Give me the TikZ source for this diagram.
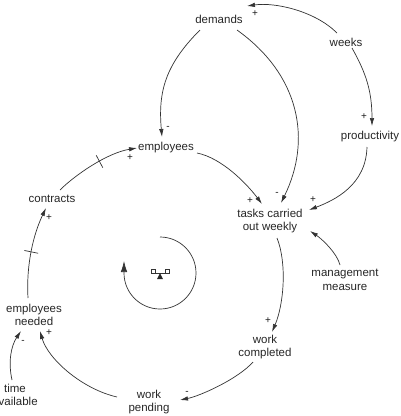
\documentclass[tikz,border=0pt]{standalone}
\usepackage{fontspec}
\setmainfont{Liberation Sans}
\usetikzlibrary{arrows.meta,decorations.markings}
\begin{document}
\begin{tikzpicture}[x=1pt,y=-1pt,
  every node/.style={font=\fontsize{11.5}{13.5}\selectfont, text=black!85, align=center, inner sep=1pt},
  lab/.style={font=\fontsize{10}{12}\selectfont, text=black!90, inner sep=0pt},
  arr/.style={draw=black!80, line width=0.7pt, -{Latex[length=8pt,width=4.5pt]}},
  delaytick/.style={postaction={decorate}, decoration={markings, mark=at position #1 with {\draw[-,black!80,line width=0.7pt] (0,-7pt) -- (0,7pt);}}}
]
\useasboundingbox (0,0) rectangle (401,416);

\node (demands) at (219,19) {demands};
\node (weeks) at (346,42) {weeks};
\node (productivity) at (370,137) {productivity};
\node (employees) at (166,148) {employees};
\node (contracts) at (52,199) {contracts};
\node (tasks) at (270,221) {tasks carried\\out weekly};
\node (management) at (345,280) {management\\measure};
\node (workcompleted) at (265,347) {work\\completed};
\node (empneeded) at (34,315) {employees\\needed};
\node (time) at (15,395) {time\\available};
\node (workpending) at (149,402) {work\\pending};

% demands -> employees
\draw[arr] ([shift={(-19,11)}]demands.center) .. controls +(-35,35) and +(-4,-45) .. ([shift={(-4,-11)}]employees.center)
  node[lab, at end, xshift=6pt, yshift=9pt] {-};
% demands -> tasks
\draw[arr] ([shift={(18,11)}]demands.center) .. controls +(63,45) and +(31,-63) .. ([shift={(11,-18)}]tasks.center)
  node[lab, at end, xshift=-4pt, yshift=9pt] {-};
% weeks -> demands
\draw[arr] ([shift={(-9,-9)}]weeks.center) .. controls +(-22,-22) and +(28,-4) .. ([shift={(28,-13)}]demands.center)
  node[lab, at end, xshift=8pt, yshift=-8pt] {+};
% weeks -> productivity
\draw[arr] ([shift={(6,6)}]weeks.center) .. controls +(14,25) and +(0,-35) .. ([shift={(2,-11)}]productivity.center)
  node[lab, at end, xshift=-8pt, yshift=9pt] {+};
% productivity -> tasks
\draw[arr] ([shift={(-3,10)}]productivity.center) .. controls +(-1,38) and +(26,-10) .. ([shift={(39,-11)}]tasks.center)
  node[lab, at end, xshift=4pt, yshift=10pt] {+};
% employees -> tasks
\draw[arr] ([shift={(31,5)}]employees.center) .. controls +(25,5) and +(-15,-20) .. ([shift={(-8,-17)}]tasks.center)
  node[lab, at end, xshift=-12pt, yshift=3pt] {+};
% contracts -> employees
\draw[arr, delaytick=0.55] ([shift={(8,-9)}]contracts.center) .. controls +(15,-15) and +(-30,5) .. ([shift={(-29,0)}]employees.center)
  node[lab, at end, xshift=-7pt, yshift=-10pt] {+};
% employees needed -> contracts
\draw[arr, delaytick=0.5] ([shift={(-6,-17)}]empneeded.center) .. controls +(-2,-35) and +(-12,25) .. ([shift={(-6,9)}]contracts.center)
  node[lab, at end, xshift=3pt, yshift=-10pt] {+};
% time available -> employees needed
\draw[arr] ([shift={(-3,-15)}]time.center) .. controls +(-4,-18) and +(-10,15) .. ([shift={(-13,16)}]empneeded.center)
  node[lab, at end, xshift=2pt, yshift=-11pt] {-};
% work pending -> employees needed
\draw[arr] ([shift={(-32,-5)}]workpending.center) .. controls +(-35,-8) and +(8,28) .. ([shift={(6,16)}]empneeded.center)
  node[lab, at end, xshift=9pt, yshift=-2pt] {+};
% work completed -> work pending
\draw[arr] ([shift={(-12,15)}]workcompleted.center) .. controls +(-15,17) and +(20,-4) .. ([shift={(31,-2)}]workpending.center)
  node[lab, at end, xshift=7pt, yshift=7pt] {-};
% tasks -> work completed
\draw[arr] ([shift={(7,17)}]tasks.center) .. controls +(10,25) and +(12,-28) .. ([shift={(7,-15)}]workcompleted.center)
  node[lab, at end, xshift=-4pt, yshift=11pt] {+};
% management measure -> tasks
\draw[arr] ([shift={(-5,-15)}]management.center) .. controls +(-3,-12) and +(12,8) .. ([shift={(40,10)}]tasks.center);

% balancing loop symbol
\coordinate (loopc) at (160,273);
\draw[draw=black!80, line width=0.7pt, -{Latex[length=11pt,width=6.5pt]}] ([shift={(0,-36)}]loopc) arc[start angle=-90, end angle=180, radius=36] -- ++(0,-12);
\draw[black!80, line width=0.6pt] (151,273) -- (169,273);
\draw[black!80, line width=0.5pt] (151,269.5) rectangle (155,273);
\draw[black!80, line width=0.5pt] (165,269.5) rectangle (169,273);
\fill[black!85] (160,273) -- (157,279) -- (163,279) -- cycle;
\end{tikzpicture}
\end{document}
